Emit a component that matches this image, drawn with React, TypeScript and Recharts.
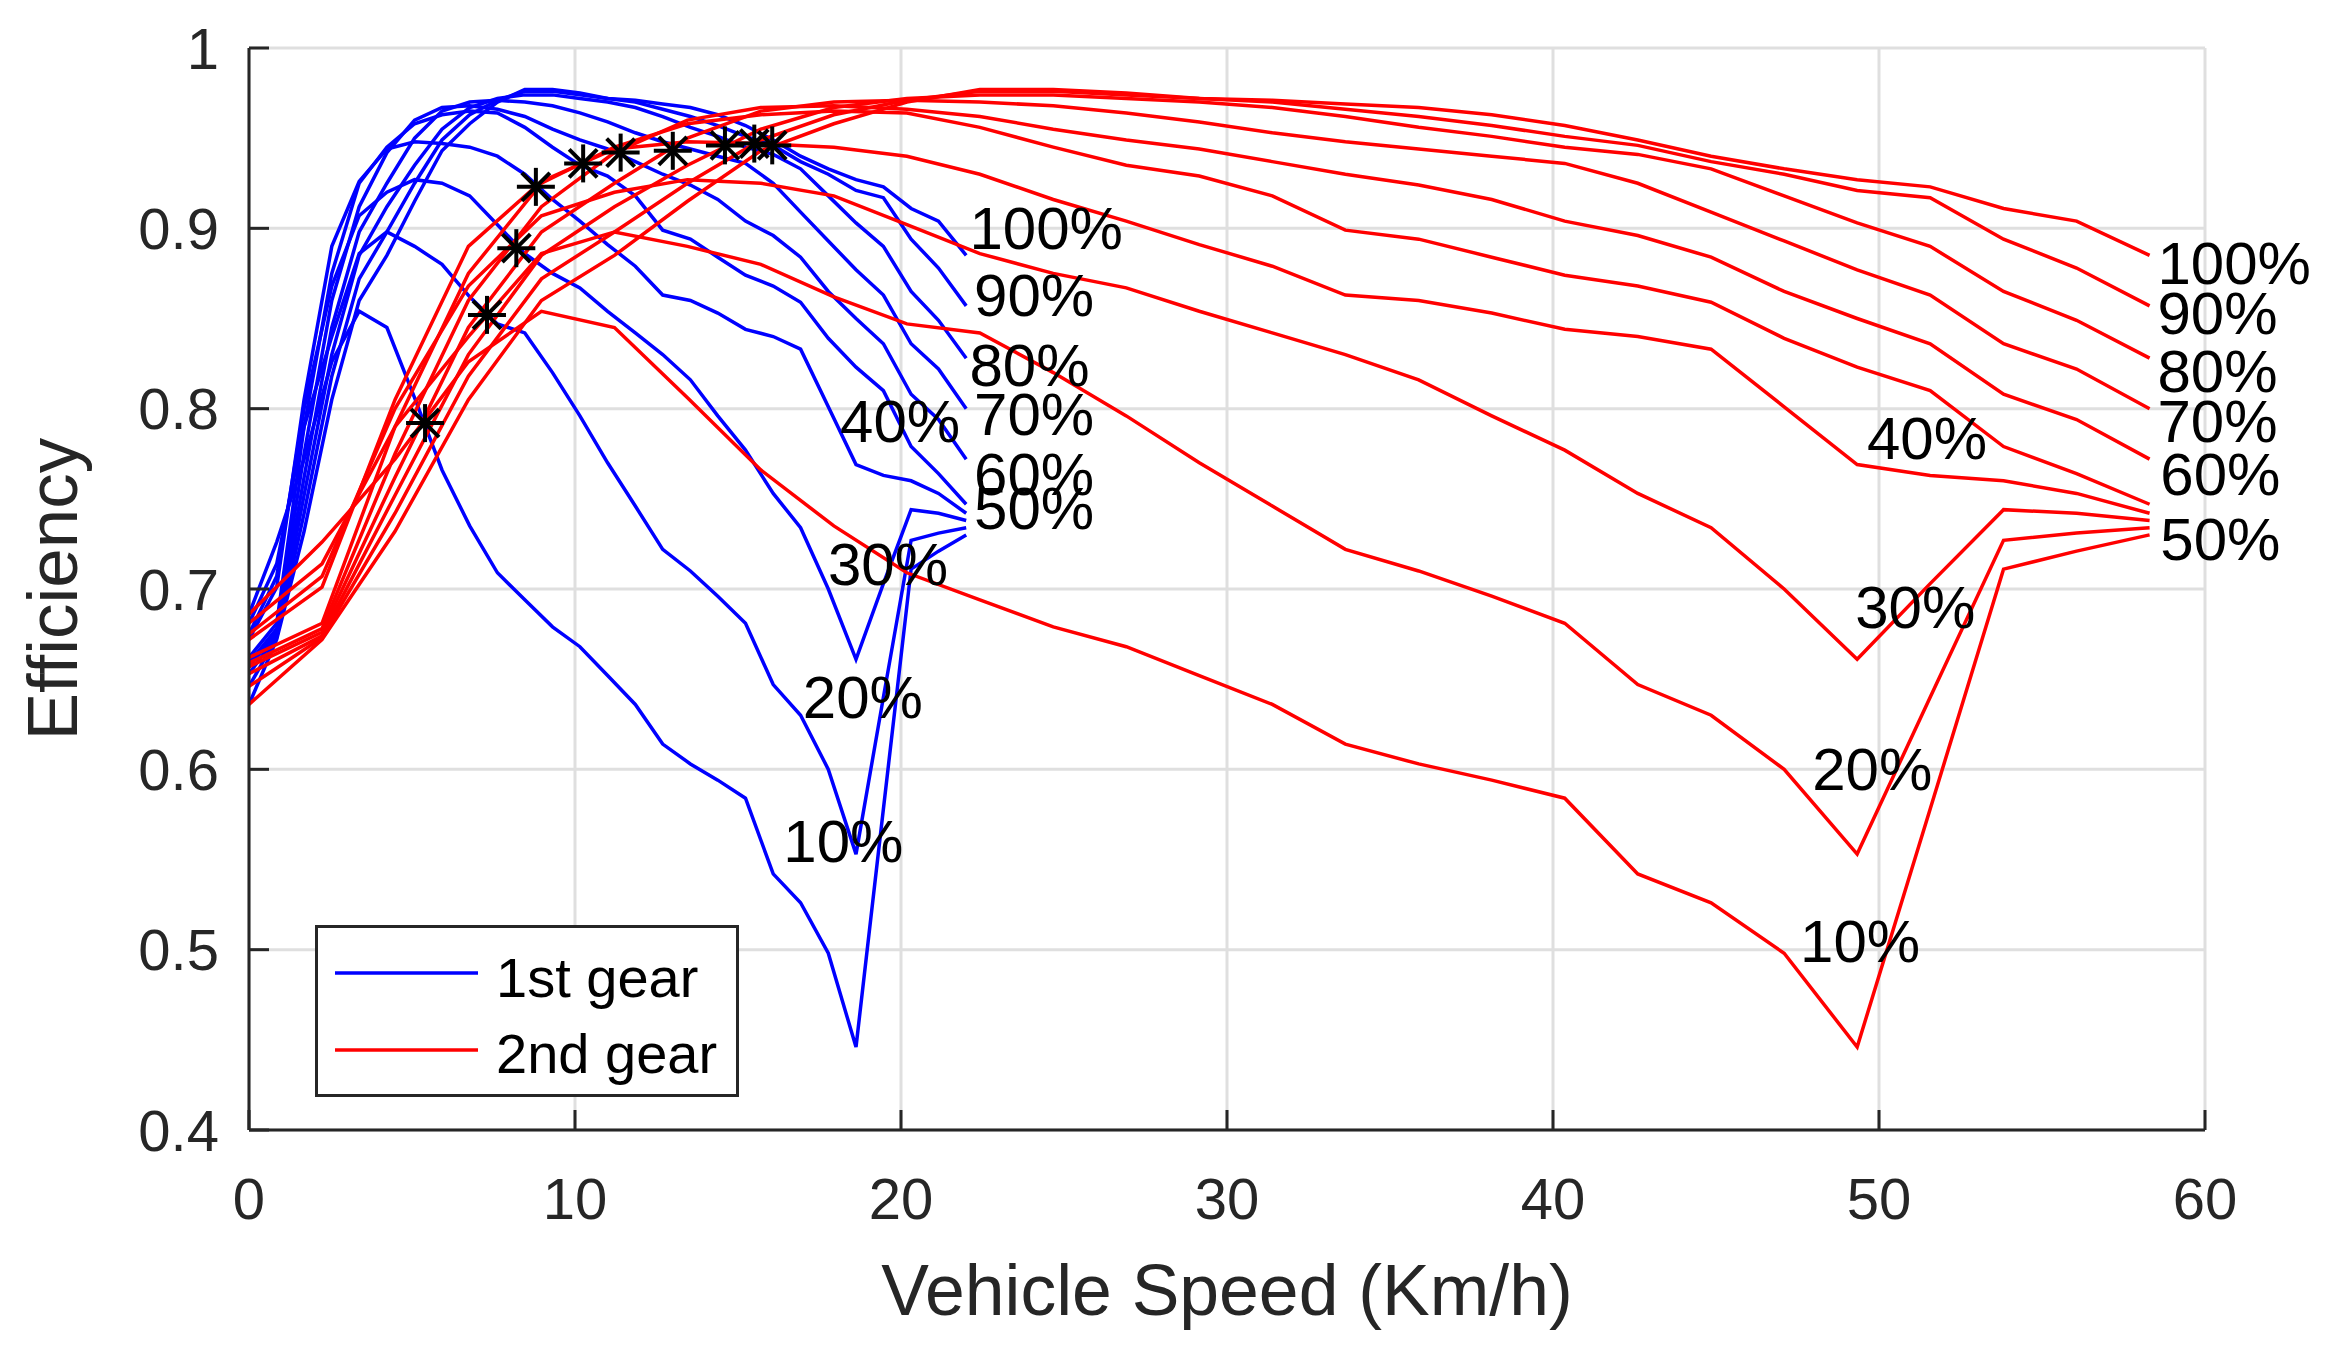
import { ComposedChart, Line, Scatter, XAxis, YAxis, CartesianGrid, ReferenceDot } from 'recharts';

const loads = ['10%', '20%', '30%', '40%', '50%', '60%', '70%', '80%', '90%', '100%'];

// vehicle speed (Km/h) at each motor speed step, per gear
const speedGear1 = [0, 0.85, 1.69, 2.54, 3.38, 4.23, 5.08, 5.92, 6.77, 7.62, 8.46, 9.31, 10.15, 11.0, 11.85, 12.69, 13.54, 14.38, 15.23, 16.08, 16.92, 17.77, 18.62, 19.46, 20.31, 21.15, 22.0];
const speedGear2 = [0, 2.24, 4.48, 6.73, 8.97, 11.21, 13.45, 15.7, 17.94, 20.18, 22.42, 24.67, 26.91, 29.15, 31.39, 33.63, 35.88, 38.12, 40.36, 42.6, 44.85, 47.09, 49.33, 51.57, 53.82, 56.06, 58.3];

// efficiency at each motor speed step (same map for both gears)
const eff10 = [0.686, 0.726, 0.772, 0.826, 0.854, 0.845, 0.806, 0.766, 0.735, 0.709, 0.694, 0.679, 0.668, 0.652, 0.636, 0.614, 0.603, 0.594, 0.584, 0.542, 0.526, 0.498, 0.446, 0.578, 0.711, 0.721, 0.730];
const eff20 = [0.681, 0.714, 0.790, 0.840, 0.886, 0.898, 0.890, 0.880, 0.862, 0.847, 0.842, 0.820, 0.796, 0.770, 0.746, 0.722, 0.710, 0.696, 0.681, 0.647, 0.630, 0.600, 0.553, 0.640, 0.727, 0.731, 0.734];
const eff30 = [0.675, 0.707, 0.800, 0.868, 0.907, 0.920, 0.927, 0.925, 0.918, 0.902, 0.886, 0.875, 0.867, 0.854, 0.842, 0.830, 0.816, 0.796, 0.777, 0.753, 0.734, 0.700, 0.661, 0.703, 0.744, 0.742, 0.738];
const eff40 = [0.672, 0.701, 0.805, 0.890, 0.926, 0.944, 0.948, 0.947, 0.945, 0.940, 0.930, 0.916, 0.904, 0.891, 0.879, 0.863, 0.860, 0.853, 0.844, 0.840, 0.833, 0.801, 0.769, 0.763, 0.760, 0.753, 0.742];
const eff50 = [0.662, 0.681, 0.790, 0.875, 0.925, 0.945, 0.958, 0.963, 0.965, 0.964, 0.956, 0.945, 0.935, 0.929, 0.918, 0.899, 0.894, 0.884, 0.874, 0.868, 0.859, 0.839, 0.823, 0.810, 0.779, 0.764, 0.747];
const eff60 = [0.659, 0.678, 0.775, 0.860, 0.912, 0.942, 0.960, 0.967, 0.968, 0.966, 0.962, 0.955, 0.949, 0.944, 0.937, 0.930, 0.924, 0.916, 0.904, 0.896, 0.884, 0.865, 0.850, 0.836, 0.808, 0.794, 0.772];
const eff70 = [0.657, 0.676, 0.762, 0.845, 0.898, 0.925, 0.950, 0.965, 0.970, 0.971, 0.970, 0.968, 0.964, 0.959, 0.953, 0.948, 0.944, 0.940, 0.936, 0.925, 0.909, 0.893, 0.877, 0.863, 0.836, 0.822, 0.800];
const eff80 = [0.653, 0.674, 0.752, 0.830, 0.885, 0.912, 0.935, 0.955, 0.967, 0.972, 0.974, 0.974, 0.972, 0.970, 0.967, 0.962, 0.956, 0.951, 0.945, 0.941, 0.933, 0.918, 0.903, 0.890, 0.865, 0.849, 0.828];
const eff90 = [0.646, 0.673, 0.742, 0.818, 0.872, 0.898, 0.925, 0.949, 0.963, 0.971, 0.976, 0.976, 0.974, 0.972, 0.970, 0.966, 0.962, 0.957, 0.951, 0.946, 0.937, 0.930, 0.921, 0.917, 0.894, 0.878, 0.857];
const eff100 = [0.636, 0.672, 0.732, 0.805, 0.860, 0.885, 0.915, 0.943, 0.958, 0.970, 0.977, 0.977, 0.975, 0.972, 0.971, 0.969, 0.967, 0.963, 0.957, 0.949, 0.940, 0.933, 0.927, 0.923, 0.911, 0.904, 0.885];
const effByLoad = [eff10, eff20, eff30, eff40, eff50, eff60, eff70, eff80, eff90, eff100];

// gear shift points (*)
const shiftSpeed = [5.4, 7.3, 8.2, 8.8, 10.25, 11.4, 13.0, 14.6, 15.5, 16.05];
const shiftEff = [0.792, 0.852, 0.889, 0.923, 0.936, 0.942, 0.943, 0.946, 0.947, 0.946];

// where the load labels sit (left edge, middle)
const gear1LabelSpeed = [16.39, 16.99, 17.76, 18.13, 22.24, 22.24, 22.24, 22.1, 22.24, 22.1];
const gear1LabelEff = [0.56, 0.64, 0.714, 0.793, 0.745, 0.764, 0.797, 0.824, 0.863, 0.9];
const gear2LabelSpeed = [47.58, 47.95, 49.27, 49.63, 58.63, 58.63, 58.54, 58.54, 58.54, 58.54];
const gear2LabelEff = [0.505, 0.6, 0.69, 0.784, 0.728, 0.764, 0.793, 0.821, 0.853, 0.881];

const xTicks = [0, 10, 20, 30, 40, 50, 60];
const yTicks = [0.4, 0.5, 0.6, 0.7, 0.8, 0.9, 1];

const gearNames = ['1st gear', '2nd gear'];
const gearColors = ['#0000ff', '#ff0000'];
const axisColor = '#262626';

const gear1Series = effByLoad.map((eff) => speedGear1.map((speed, i) => ({ speed, eff: eff[i] })));
const gear2Series = effByLoad.map((eff) => speedGear2.map((speed, i) => ({ speed, eff: eff[i] })));
const shiftPoints = shiftSpeed.map((speed, i) => ({ speed, eff: shiftEff[i] }));

const Asterisk = (props: any) => {
  const { cx, cy } = props;
  if (cx == null || cy == null) return null;
  return (
    <g stroke='#000' strokeWidth={4}>
      <line x1={cx - 19} y1={cy} x2={cx + 19} y2={cy} />
      <line x1={cx} y1={cy - 19} x2={cx} y2={cy + 19} />
      <line x1={cx - 14} y1={cy - 14} x2={cx + 14} y2={cy + 14} />
      <line x1={cx - 14} y1={cy + 14} x2={cx + 14} y2={cy - 14} />
    </g>
  );
};

const loadText = (text: string) => (props: any) => (
  <text x={props.cx} y={props.cy} dy='0.35em' fontSize={60} fill='#000' textAnchor='start'>
    {text}
  </text>
);

const GearLegend = () => (
  <div
    style={{
      position: 'absolute',
      left: 315,
      top: 925,
      width: 424,
      height: 172,
      border: `3px solid ${axisColor}`,
      boxSizing: 'border-box',
      background: '#fff',
    }}
  >
    <svg width={418} height={166} style={{ display: 'block' }}>
      {gearNames.map((name, i) => (
        <g key={name}>
          <line x1={17} x2={160} y1={45 + i * 77} y2={45 + i * 77} stroke={gearColors[i]} strokeWidth={3.5} />
          <text x={178} y={69 + i * 76} fontSize={56} fill='#000'>
            {name}
          </text>
        </g>
      ))}
    </svg>
  </div>
);

const App = () => {
  return (
    <div
      style={{
        position: 'absolute',
        left: 0,
        top: 0,
        width: 2331,
        height: 1360,
        background: '#fff',
        fontFamily: '"Liberation Sans", Arial, sans-serif',
      }}
    >
      <ComposedChart width={2331} height={1360} margin={{ top: 48, right: 126, bottom: 30, left: 0 }}>
        <CartesianGrid stroke='#dfdfdf' strokeWidth={3} />
        <XAxis
          dataKey='speed'
          type='number'
          domain={[0, 60]}
          ticks={xTicks}
          allowDataOverflow
          height={200}
          axisLine={{ stroke: axisColor, strokeWidth: 3 }}
          tickLine={{ stroke: axisColor, strokeWidth: 3 }}
          tickSize={-20}
          tickMargin={68}
          tick={{ fill: axisColor, fontSize: 58 }}
          label={{ value: 'Vehicle Speed (Km/h)', position: 'insideBottom', offset: 15, fontSize: 71.5, fill: axisColor }}
        />
        <YAxis
          type='number'
          domain={[0.4, 1]}
          ticks={yTicks}
          allowDataOverflow
          width={249}
          axisLine={{ stroke: axisColor, strokeWidth: 3 }}
          tickLine={{ stroke: axisColor, strokeWidth: 3 }}
          tickSize={-20}
          tickMargin={50}
          tick={{ fill: axisColor, fontSize: 58 }}
          tickFormatter={(v: number) => String(v)}
          label={{
            value: 'Efficiency',
            angle: -90,
            position: 'insideLeft',
            offset: 52,
            fontSize: 71,
            fill: axisColor,
            style: { textAnchor: 'middle' },
          }}
        />
        {gear1Series.map((data, i) => (
          <Line
            key={`g1-${loads[i]}`}
            data={data}
            dataKey='eff'
            type='linear'
            stroke={gearColors[0]}
            strokeWidth={3.5}
            dot={false}
            activeDot={false}
            isAnimationActive={false}
          />
        ))}
        {gear2Series.map((data, i) => (
          <Line
            key={`g2-${loads[i]}`}
            data={data}
            dataKey='eff'
            type='linear'
            stroke={gearColors[1]}
            strokeWidth={3.5}
            dot={false}
            activeDot={false}
            isAnimationActive={false}
          />
        ))}
        <Scatter data={shiftPoints} dataKey='eff' shape={Asterisk} isAnimationActive={false} />
        {loads.map((load, i) => (
          <ReferenceDot
            key={`l1-${load}`}
            x={gear1LabelSpeed[i]}
            y={gear1LabelEff[i]}
            r={0}
            shape={loadText(load)}
          />
        ))}
        {loads.map((load, i) => (
          <ReferenceDot
            key={`l2-${load}`}
            x={gear2LabelSpeed[i]}
            y={gear2LabelEff[i]}
            r={0}
            shape={loadText(load)}
          />
        ))}
      </ComposedChart>
      <GearLegend />
    </div>
  );
};

export default App;
